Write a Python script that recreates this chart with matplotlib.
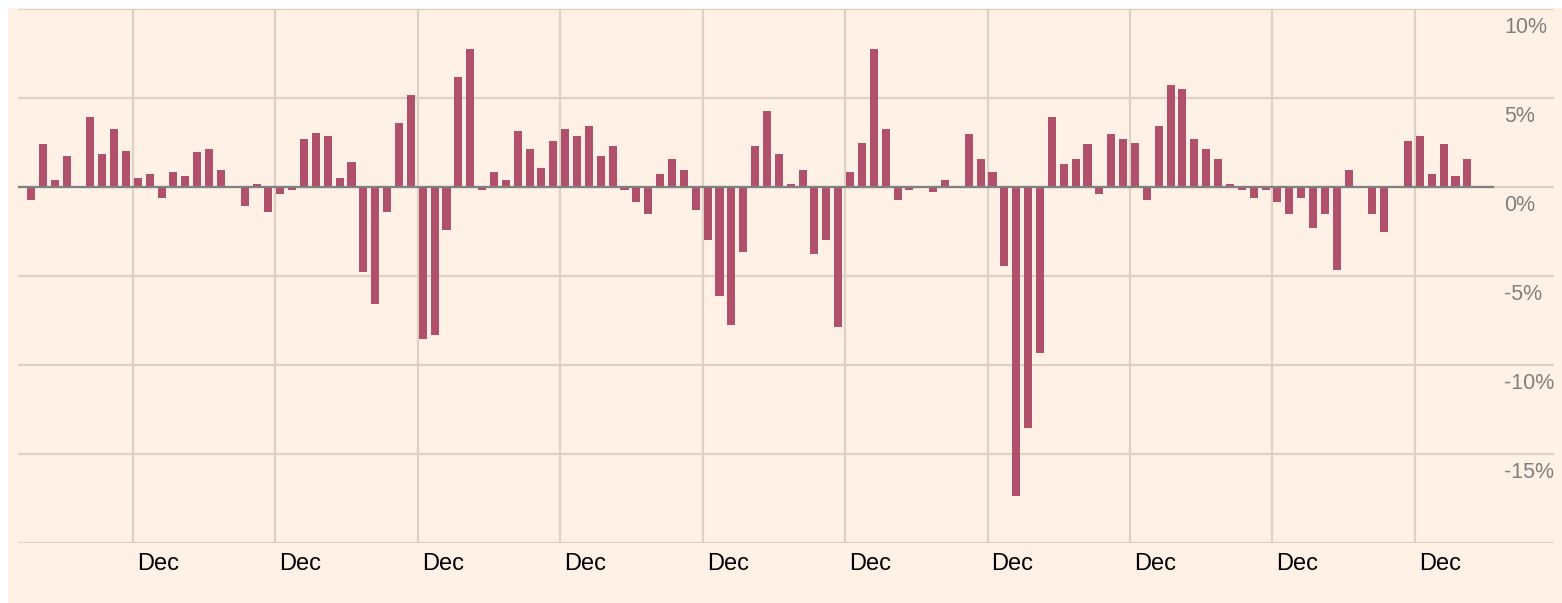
import numpy as np
import matplotlib
matplotlib.use("Agg")
import matplotlib.pyplot as plt
from matplotlib.patches import Rectangle
import matplotlib.transforms as mtransforms

# monthly change in %, Mar of year 1 through Apr of year 11
returns = [
    -0.73, 2.39, 0.37, 1.72, 0.0, 3.96, 1.83, 3.28, 2.05, 0.49,
    0.71, -0.62, 0.82, 0.60, 1.94, 2.16, 0.93, 0.04, -1.06, 0.15,
    -1.40, -0.39, -0.17, 2.72, 3.06, 2.84, 0.49, 1.38, -4.76, -6.55,
    -1.40, 3.62, 5.19, -8.56, -8.34, -2.41, 6.19, 7.76, -0.17, 0.82,
    0.37, 3.17, 2.16, 1.04, 2.61, 3.28, 2.84, 3.40, 1.72, 2.28,
    -0.17, -0.84, -1.51, 0.71, 1.60, 0.93, -1.29, -2.97, -6.10, -7.78,
    -3.64, 2.28, 4.29, 1.83, 0.15, 0.93, -3.75, -2.97, -7.89, 0.82,
    2.50, 7.76, 3.28, -0.73, -0.17, 0.0, -0.28, 0.37, 0.0, 2.95,
    1.60, 0.82, -4.42, -17.35, -13.54, -9.35, 3.96, 1.27, 1.60, 2.39,
    -0.39, 2.95, 2.72, 2.50, -0.73, 3.40, 5.75, 5.52, 2.72, 2.16,
    1.60, 0.15, -0.17, -0.62, -0.17, -0.84, -1.51, -0.62, -2.29, -1.51,
    -4.65, 0.93, 0.0, -1.51, -2.52, 0.0, 2.61, 2.84, 0.71, 2.39,
    0.60, 1.60,
]
first_dec = 9          # index of the first December bar
year_labels = ["Dec"] * 10
y_ticks = [10, 5, 0, -5, -10, -15]

bg = "#fff1e5"
grid_col = "#dcd1c5"
bar_col = "#b0506b"

fig = plt.figure(figsize=(15.62, 6.03), dpi=100)
fig.patch.set_facecolor("white")
fig.patches.append(Rectangle((8 / 1562, 0), 1, 1 - 8 / 603, transform=fig.transFigure,
                             facecolor=bg, edgecolor="none", zorder=-10))

ax = fig.add_axes([18 / 1562, 1 - 543 / 603, 1536 / 1562, 534 / 603])
ax.set_facecolor("none")
for s in ax.spines.values():
    s.set_visible(False)

x = np.arange(len(returns))
ax.set_xlim(-1.095, 128.3)
ax.set_ylim(-20, 10)

# grid
for v in [10, 5, 0, -5, -10, -15, -20]:
    ax.axhline(v, color=grid_col, lw=1.6, zorder=0)
dec_pos = [first_dec - 0.42 + 12 * k for k in range(len(year_labels))]
for p in dec_pos:
    ax.axvline(p, color=grid_col, lw=1.6, zorder=0)

ax.bar(x, returns, width=0.68, color=bar_col, zorder=2)
ax.axhline(0, xmin=0, xmax=0.9603, color="#808080", lw=1.6, zorder=3)

ax.set_xticks([])
ax.set_yticks([])

# month labels under the axis
off = mtransforms.ScaledTranslation(4 / 100, -27 / 100, fig.dpi_scale_trans)
trans = mtransforms.blended_transform_factory(ax.transData, ax.transAxes) + off
for p, lab in zip(dec_pos, year_labels):
    ax.text(p, 0, lab, transform=trans, ha="left", va="baseline",
            fontsize=17, color="black", family="Liberation Sans")

# y labels, right side below each gridline
yoff = mtransforms.ScaledTranslation(0, -24 / 100, fig.dpi_scale_trans)
ytrans = mtransforms.blended_transform_factory(ax.transAxes, ax.transData) + yoff
for v in y_ticks:
    ax.text((1504 - 18) / 1536, v, f"{v}%", transform=ytrans, ha="left",
            va="baseline", fontsize=15.5, color="#808080", family="Liberation Sans")

fig.savefig("out.png", dpi=100, facecolor=fig.get_facecolor())
